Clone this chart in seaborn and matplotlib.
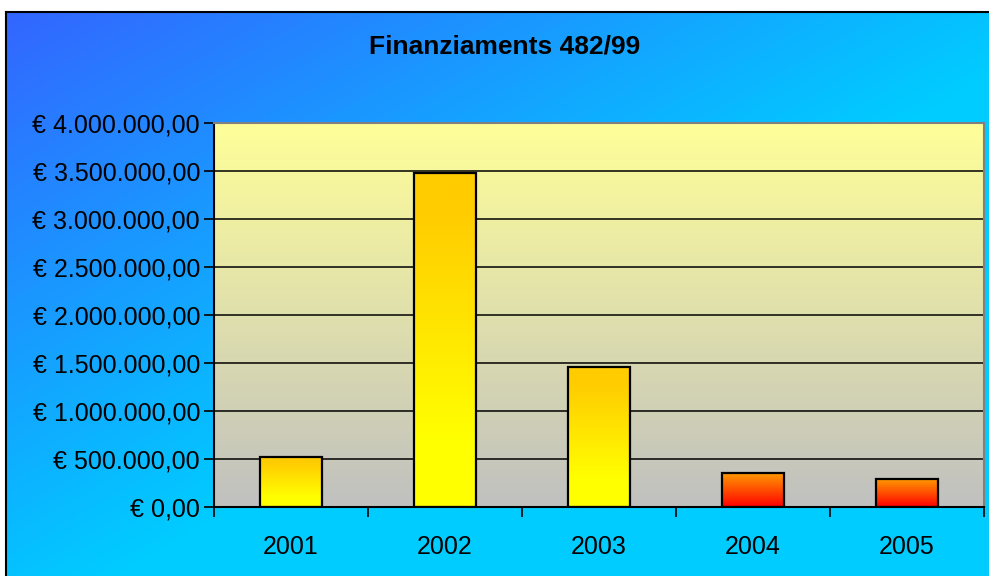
import numpy as np
import matplotlib
matplotlib.use("Agg")
import matplotlib.pyplot as plt
import seaborn as sns
from matplotlib.colors import LinearSegmentedColormap
from matplotlib.ticker import FuncFormatter, FixedLocator

sns.set_theme(style="ticks")
plt.rcParams['font.family'] = ['Liberation Sans', 'DejaVu Sans']

years = ['2001', '2002', '2003', '2004', '2005']
amounts = [520000, 3480000, 1455000, 351000, 289000]
title = 'Finanziaments 482/99'

W, H = 989, 576
fig = plt.figure(figsize=(W / 100, H / 100), dpi=100)
fig.patch.set_facecolor('white')

# blue background with diagonal gradient
bg = fig.add_axes([6 / W, 0, 1 - 6 / W, 1 - 12 / H], zorder=-5)
u = np.linspace(0, 1, 300)[None, :]
v = np.linspace(0, 1, 200)[:, None]
t = np.clip((u + v) * 0.9, 0, 1)
bg_cmap = LinearSegmentedColormap.from_list('bg', ['#3366ff', '#00ccff'])
bg.imshow(t, cmap=bg_cmap, aspect='auto', extent=[0, 1, 0, 1], origin='upper')
bg.set_xlim(0, 1)
bg.set_ylim(0, 1)
bg.set_xticks([])
bg.set_yticks([])
for side in ['right', 'bottom']:
    bg.spines[side].set_visible(False)
bg.spines['top'].set_color('black')
bg.spines['left'].set_color('black')
bg.spines['top'].set_linewidth(1.5)
bg.spines['left'].set_linewidth(1.5)

ax = fig.add_axes([214 / W, 1 - 507 / H, (984 - 214) / W, (507 - 123) / H])
ax.patch.set_alpha(0)

sns.barplot(x=years, y=amounts, hue=years, legend=False, width=0.4,
            palette=['#ffcc00'] * 5, saturation=1, ax=ax)

ax.set_xlim(-0.5, 4.5)
ax.set_ylim(0, 4000000)

# plot area gradient
area_cmap = LinearSegmentedColormap.from_list('area', ['#ffff99', '#c0c0c0'])
ax.imshow(np.linspace(0, 1, 256)[:, None], cmap=area_cmap, aspect='auto',
          extent=[-0.5, 4.5, 0, 4000000], origin='upper', zorder=-2)

ax.set_axisbelow(True)
ax.yaxis.grid(True, color='black', linewidth=1.1)
ax.xaxis.grid(False)

yellow = LinearSegmentedColormap.from_list('yel', [(0, '#ffcc00'), (0.12, '#ffcc00'), (0.8, '#ffff00'), (1, '#ffff00')])
red = LinearSegmentedColormap.from_list('red', ['#ff9900', '#ff0000'])
grad = np.linspace(0, 1, 256)[:, None]
for i, bar in enumerate(ax.patches):
    x0 = bar.get_x()
    w = bar.get_width()
    h = bar.get_height()
    cm = yellow if i < 3 else red
    img = ax.imshow(grad, cmap=cm, aspect='auto', extent=[x0, x0 + w, 0, h],
                    origin='upper', zorder=2)
    img.set_clip_path(bar)
    bar.set_facecolor('none')
    bar.set_edgecolor('black')
    bar.set_linewidth(1.6)
    bar.set_zorder(3)

ax.set_xlim(-0.5, 4.5)
ax.set_ylim(0, 4000000)

ax.yaxis.set_major_locator(FixedLocator(np.arange(0, 4000001, 500000)))


def euro(val, pos):
    s = f"{val:,.2f}".replace(',', 'X').replace('.', ',').replace('X', '.')
    return '€ ' + s


ax.yaxis.set_major_formatter(FuncFormatter(euro))
ax.set_xticks(range(5))
ax.set_xticklabels(years)
ax.set_xticks(np.arange(-0.5, 5, 1), minor=True)
ax.tick_params(axis='x', which='major', length=0, pad=20, labelsize=18, colors='black')
ax.tick_params(axis='x', which='minor', length=7, width=1.2, color='black', direction='out')
ax.tick_params(axis='y', length=7, width=1.2, color='black', labelsize=18, pad=3, colors='black')

ax.spines['left'].set_color('black')
ax.spines['bottom'].set_color('black')
ax.spines['top'].set_color('#808080')
ax.spines['right'].set_color('#808080')
for s in ax.spines.values():
    s.set_linewidth(1.5)
    s.set_visible(True)
ax.set_xlabel('')
ax.set_ylabel('')

fig.text(505 / W, 1 - 47 / H, title, ha='center', va='center',
         fontsize=19, fontweight='bold', color='black')

fig.savefig('out.png', dpi=100)
